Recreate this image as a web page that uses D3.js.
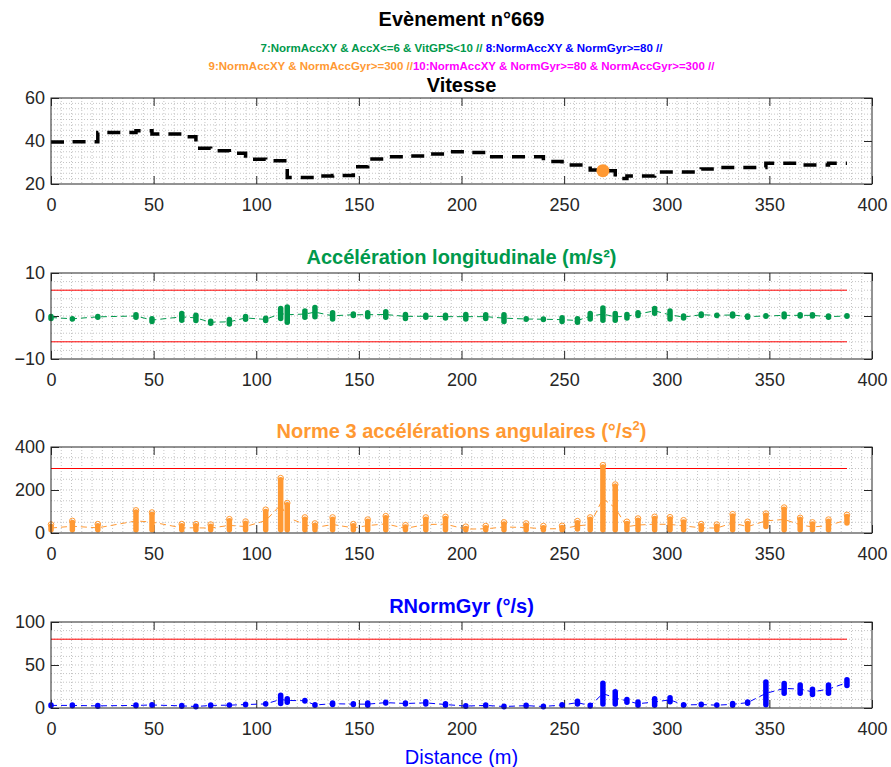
<!DOCTYPE html>
<html>
<head>
<meta charset="utf-8">
<script src="https://cdn.jsdelivr.net/npm/d3@7"></script>
<style>
  body { margin: 0; background: #fff; }
  svg { font-family: 'Liberation Sans', Arial, Helvetica, sans-serif; }
</style>
</head>
<body>
<script>
// Distances (m) of each group of samples
let distances = [0, 10.4, 22.8, 41.4, 49.2, 63.7, 70.6, 77.8, 86.9, 94.8, 104.6, 111.9, 115.1, 123.7, 128.6, 137.2,
  147.3, 154.3, 163.1, 172.7, 182.6, 192.2, 202.1, 211.8, 220.7, 231.5, 239.9, 249, 256.5, 262.7, 268.9, 274.9,
  280.6, 286, 294.1, 301.6, 308.2, 316.8, 324.4, 332.1, 339.4, 348.3, 357.2, 365, 371, 378.8, 387.8]

// Vitesse (km/h)
let vitesse = [39.5, 39.7, 44, 44.8, 43.3, 42, 36.6, 35.5, 34.3, 31.5, 30.8, 30.8, 23, 23, 23.7, 24,
  28, 31.6, 32.7, 33, 34, 35, 34.7, 32.7, 32.7, 32.7, 30.5, 28.8, 28.8, 26.5, 26.2, 22.6,
  23.7, 23.7, 25.6, 25.6, 25.6, 27, 27.7, 27.7, 27.7, 29.6, 29.6, 28.8, 28.8, 29.6, 29.6]

// event marker (code 9)
let evenementDist = [268.9]
let evenementVit = [26.2]

// Accélération longitudinale, min / max per group
let accMin = [-1.2, -1.3, -0.9, -0.9, -1.9, -1.6, -1.7, -2.3, -2.5, -1.4, -1.7, -1.2, -2.1, -0.9, -0.8, -1.3,
  -0.5, -0.8, -0.9, -1.2, -0.9, -1.1, -1.3, -1.2, -1.9, -1.0, -1.3, -1.9, -2.1, -1.3, -1.6, -1.6,
  -1.1, -0.5, 0, -1.3, -1.1, -0.5, -0.5, -0.6, -0.9, -0.5, -0.8, -0.6, -0.6, -0.9, -0.5]
let accMax = [0.5, 0, 0.5, 0.9, 0, 1.2, 0.8, -0.6, -0.2, 0.5, 0.1, 2.4, 2.7, 1.8, 2.6, 1.4,
  1.1, 1.4, 1.6, 1.0, 0.8, 0.8, 1.0, 0.9, 0.9, -0.4, -0.2, 0.2, 0, 1.2, 2.5, 1.2,
  1.0, 1.4, 2.4, 1.8, 0.6, 1.1, 0.8, 1.1, 0.6, 0.5, 1.1, 0.9, 0.9, 0.6, 0.5]

// Norme 3 accélérations angulaires
let accAngMin = [2, 2, 2, 2, 2, 2, 2, 2, 2, 2, 2, 2, 2, 2, 2, 2,
  2, 2, 2, 2, 2, 2, 2, 2, 2, 2, 2, 2, 6, 2, 2, 2,
  2, 2, 2, 2, 2, 2, 2, 2, 2, 18, 3, 2, 2, 2, 34]
let accAngMax = [44, 61, 46, 110, 100, 46, 46, 44, 69, 58, 113, 260, 144, 77, 49, 77,
  46, 67, 83, 41, 77, 80, 34, 37, 54, 49, 37, 38, 60, 77, 320, 230,
  57, 72, 80, 78, 64, 46, 44, 92, 57, 95, 123, 75, 54, 67, 89]

// RNormGyr
let gyrMin = [1, 2, 1, 0, 0, 1, 0, 1, 0, 1, 1.5, 2, 3.5, 5, 0, 1,
  1, 0, 3.5, 1.5, 1.5, 0, 1, 1.5, 0, 0, 0, 0, 1.5, 0, 1.5, 1.5,
  3.5, 0, 0, 4, 0, 1, 0, 0, 2.5, 0.5, 14, 14, 12.5, 14, 23]
let gyrMax = [5, 4, 4, 6, 7, 4, 3.5, 5, 6.6, 7, 8, 18, 14, 12, 7, 9,
  8, 9, 9, 9, 10.5, 8, 3.5, 4.5, 3.5, 5.5, 3.5, 7, 11, 5.5, 32, 22,
  13, 10, 14, 15, 7, 7, 6.6, 8.5, 10, 33.5, 31.5, 30, 25, 30, 36]

// thresholds
let seuilAcc = [6, -6]
let seuilAccAng = [300]
let seuilGyr = [80]

let xTicks = [0, 50, 100, 150, 200, 250, 300, 350, 400]

let vert = '#00994c'
let orange = '#ff9933'
let bleu = '#0000ff'
let magenta = '#ff00ff'
let gris = '#262626'

// Set up margin/height/width
let margin = { left: 51, right: 19 }
let width = 891 - margin.left - margin.right
let height = 86

let svg = d3.select('body').append('svg')
  .attr('width', 891)
  .attr('height', 767)

let xPositionScale = d3.scaleLinear().domain([0, 400]).range([0, width])

let lastDist = distances[distances.length - 1]

// Main title + legend lines
svg.append('text')
  .attr('x', margin.left + width / 2)
  .attr('y', 26)
  .attr('text-anchor', 'middle')
  .attr('font-size', 20)
  .attr('font-weight', 'bold')
  .attr('fill', '#000')
  .text('Evènement n°669')

let leg1 = svg.append('text')
  .attr('x', margin.left + width / 2)
  .attr('y', 52)
  .attr('text-anchor', 'middle')
  .attr('font-size', 11.5)
  .attr('font-weight', 'bold')
leg1.append('tspan').attr('fill', vert).text('7:NormAccXY & AccX<=6 & VitGPS<10 // ')
leg1.append('tspan').attr('fill', bleu).text('8:NormAccXY & NormGyr>=80 //')

let leg2 = svg.append('text')
  .attr('x', margin.left + width / 2)
  .attr('y', 70)
  .attr('text-anchor', 'middle')
  .attr('font-size', 11.5)
  .attr('font-weight', 'bold')
leg2.append('tspan').attr('fill', orange).text('9:NormAccXY & NormAccGyr>=300 //')
leg2.append('tspan').attr('fill', magenta).text('10:NormAccXY & NormGyr>=80 & NormAccGyr>=300 //')

function drawPanel(cfg) {
  let g = svg.append('g').attr('transform', `translate(${margin.left},${cfg.top})`)

  let yPositionScale = d3.scaleLinear().domain(cfg.domain).range([height, 0])

  // minor grid (dotted)
  g.append('g')
    .selectAll('line')
    .data(d3.range(5, 400, 5))
    .enter()
    .append('line')
    .attr('x1', d => xPositionScale(d))
    .attr('x2', d => xPositionScale(d))
    .attr('y1', 0)
    .attr('y2', height)
    .attr('stroke', '#c4c4c4')
    .attr('stroke-dasharray', '1,2')

  let yMinor = d3.range(cfg.domain[0] + cfg.minor, cfg.domain[1] - cfg.minor / 2, cfg.minor)
  g.append('g')
    .selectAll('line')
    .data(yMinor)
    .enter()
    .append('line')
    .attr('x1', 0)
    .attr('x2', width)
    .attr('y1', d => yPositionScale(d))
    .attr('y2', d => yPositionScale(d))
    .attr('stroke', '#c4c4c4')
    .attr('stroke-dasharray', '1,2')

  // axes : labels bottom/left, inner ticks on all four sides
  g.append('g')
    .attr('class', 'axis x-axis')
    .attr('transform', `translate(0,${height})`)
    .call(d3.axisBottom(xPositionScale).tickValues(xTicks).tickSizeInner(-8).tickSizeOuter(0).tickPadding(14))
  g.append('g')
    .attr('class', 'axis')
    .call(d3.axisTop(xPositionScale).tickValues(xTicks).tickSizeInner(-8).tickSizeOuter(0).tickFormat(''))
  g.append('g')
    .attr('class', 'axis y-axis')
    .call(d3.axisLeft(yPositionScale).tickValues(cfg.ticks).tickSizeInner(-8).tickSizeOuter(0).tickPadding(6))
  g.append('g')
    .attr('class', 'axis')
    .attr('transform', `translate(${width},0)`)
    .call(d3.axisRight(yPositionScale).tickValues(cfg.ticks).tickSizeInner(-8).tickSizeOuter(0).tickFormat(''))

  g.selectAll('.axis .domain').remove()
  g.selectAll('.axis line').attr('stroke', gris)
  g.selectAll('.axis text')
    .attr('fill', gris)
    .attr('font-size', 18)
    .attr('font-family', "'Liberation Sans', Arial, sans-serif")

  // threshold lines
  g.selectAll('.seuil')
    .data(cfg.seuils || [])
    .enter()
    .append('line')
    .attr('class', 'seuil')
    .attr('x1', xPositionScale(0))
    .attr('x2', xPositionScale(lastDist))
    .attr('y1', d => yPositionScale(d))
    .attr('y2', d => yPositionScale(d))
    .attr('stroke', '#ff0000')
    .attr('stroke-width', 1)

  cfg.marks(g, yPositionScale)

  // box
  g.append('rect')
    .attr('width', width)
    .attr('height', height)
    .attr('fill', 'none')
    .attr('stroke', gris)
    .attr('stroke-width', 1)

  // panel title
  let t = g.append('text')
    .attr('x', width / 2)
    .attr('y', cfg.titleY)
    .attr('text-anchor', 'middle')
    .attr('font-size', 20)
    .attr('font-weight', 'bold')
    .attr('fill', cfg.color)
  cfg.title(t)
}

// groups drawn as thick rounded bars + thin dashed link line
function drawGroups(g, y, mins, maxs, color, circles) {
  let rows = distances.map((d, i) => ({ d: d, lo: mins[i], hi: maxs[i] }))

  let link = d3.line()
    .x(d => xPositionScale(d.d))
    .y(d => y((d.lo + d.hi) / 2))

  g.append('path')
    .datum(rows)
    .attr('d', link)
    .attr('fill', 'none')
    .attr('stroke', color)
    .attr('stroke-width', 1)
    .attr('stroke-dasharray', '6,4')

  g.selectAll('.bar')
    .data(rows)
    .enter()
    .append('line')
    .attr('class', 'bar')
    .attr('x1', d => xPositionScale(d.d))
    .attr('x2', d => xPositionScale(d.d))
    .attr('y1', d => {
      let a = y(d.hi) + 2.7, b = y(d.lo) - 2.7
      return a < b ? a : (a + b) / 2 - 0.3
    })
    .attr('y2', d => {
      let a = y(d.hi) + 2.7, b = y(d.lo) - 2.7
      return a < b ? b : (a + b) / 2 + 0.3
    })
    .attr('stroke', color)
    .attr('stroke-width', 5.5)
    .attr('stroke-linecap', 'round')

  if (circles) {
    g.selectAll('.cercle')
      .data(rows)
      .enter()
      .append('circle')
      .attr('class', 'cercle')
      .attr('cx', d => xPositionScale(d.d))
      .attr('cy', d => y(d.hi) + 1)
      .attr('r', 2.8)
      .attr('fill', 'none')
      .attr('stroke', color)
      .attr('stroke-width', 1)
  }
}

// Vitesse
drawPanel({
  top: 98,
  domain: [20, 60],
  ticks: [20, 40, 60],
  minor: 2.5,
  color: '#000',
  titleY: -6,
  title: t => t.text('Vitesse'),
  marks: (g, y) => {
    let lineVit = d3.line()
      .x(d => xPositionScale(d[0]))
      .y(d => y(d[1]))
      .curve(d3.curveStepAfter)
    g.append('path')
      .datum(distances.map((d, i) => [d, vitesse[i]]))
      .attr('d', lineVit)
      .attr('fill', 'none')
      .attr('stroke', '#000')
      .attr('stroke-width', 3.5)
      .attr('stroke-dasharray', '13,9')
    g.selectAll('.evt')
      .data(evenementDist)
      .enter()
      .append('circle')
      .attr('cx', d => xPositionScale(d))
      .attr('cy', (d, i) => y(evenementVit[i]))
      .attr('r', 6.5)
      .attr('fill', orange)
  }
})

// Accélération longitudinale
drawPanel({
  top: 273,
  domain: [-10, 10],
  ticks: [-10, 0, 10],
  minor: 2,
  color: vert,
  titleY: -9,
  seuils: seuilAcc,
  title: t => t.text('Accélération longitudinale (m/s²)'),
  marks: (g, y) => drawGroups(g, y, accMin, accMax, vert, false)
})

// Norme 3 accélérations angulaires
drawPanel({
  top: 447,
  domain: [0, 400],
  ticks: [0, 200, 400],
  minor: 50,
  color: orange,
  titleY: -9,
  seuils: seuilAccAng,
  title: t => {
    t.append('tspan').text('Norme 3 accélérations angulaires (°/s')
    t.append('tspan').attr('font-size', 13).attr('dy', -8).text('2')
    t.append('tspan').attr('dy', 8).text(')')
  },
  marks: (g, y) => drawGroups(g, y, accAngMin, accAngMax, orange, true)
})

// RNormGyr
drawPanel({
  top: 622,
  domain: [0, 100],
  ticks: [0, 50, 100],
  minor: 10,
  color: bleu,
  titleY: -9,
  seuils: seuilGyr,
  title: t => t.text('RNormGyr (°/s)'),
  marks: (g, y) => drawGroups(g, y, gyrMin, gyrMax, bleu, false)
})

svg.append('text')
  .attr('x', margin.left + width / 2)
  .attr('y', 764)
  .attr('text-anchor', 'middle')
  .attr('font-size', 20)
  .attr('fill', bleu)
  .text('Distance (m)')
</script>
</body>
</html>
